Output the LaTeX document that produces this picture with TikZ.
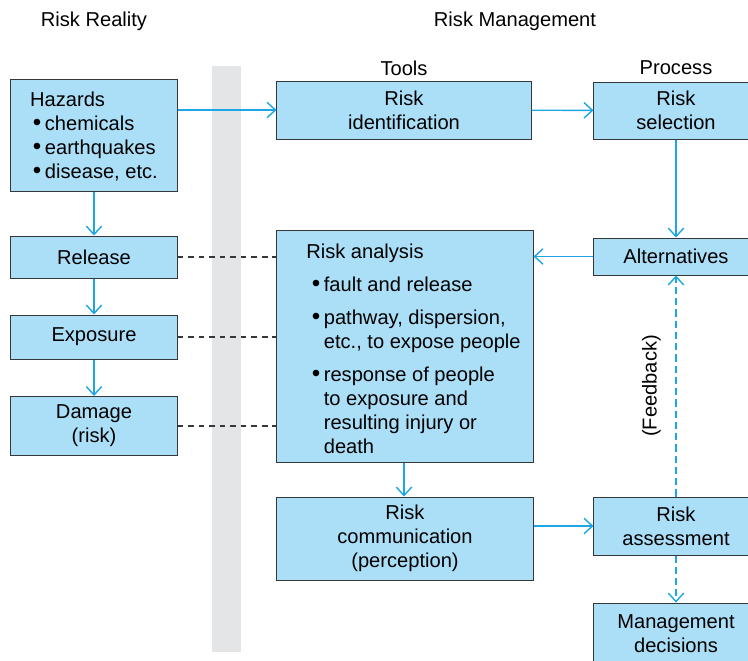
\documentclass[tikz,border=0pt]{standalone}
\usepackage{fontspec}
\setmainfont{Liberation Sans}
\usetikzlibrary{arrows.meta}
\definecolor{boxfill}{RGB}{171,223,248}
\definecolor{flowblue}{RGB}{28,166,230}
\definecolor{bargray}{RGB}{228,229,231}
\definecolor{edgegray}{RGB}{55,55,55}
\newcommand{\bul}{\scalebox{1.2}{\textbullet}\hspace{2.5pt}}
\newcommand{\shiftdown}[2]{\raisebox{-#1}[\height][\depth]{#2}}

\begin{document}
\begin{tikzpicture}[x=0.025cm, y=-0.025cm,
    font=\fontsize{14.3}{17.2}\selectfont,
    box/.style={draw=edgegray, fill=boxfill, line width=0.7pt, align=center, inner sep=0pt},
    flow/.style={draw=flowblue, line width=1pt, -{Straight Barb[length=6pt,width=11pt]}},
    feed/.style={flow, dash pattern=on 5pt off 3pt},
    link/.style={draw=edgegray, line width=0.8pt, dash pattern=on 4pt off 3.5pt}]
    \useasboundingbox (0,0) rectangle (748,660);
    % divider between the two halves
    \fill[bargray] (212,66) rectangle (241,652);

    % headings
    \node (reality) at (94,21) {Risk Reality};
    \node (management) at (515,21) {Risk Management};
    \node (tools) at (404,68) {Tools};
    \node (process) at (676,68) {Process};

    % risk reality column
    \node[box, minimum width=4.15cm, minimum height=2.8cm] (hazards) at (94,135)
      {\shiftdown{2pt}{\begin{tabular}{@{}l@{}}
        Hazards\\
        \hspace{2pt}\bul chemicals\\
        \hspace{2pt}\bul earthquakes\\
        \hspace{2pt}\bul disease, etc.
      \end{tabular}}};
    \node[box, minimum width=4.15cm, minimum height=1.05cm] (release) at (94,257) {Release};
    \node[box, minimum width=4.15cm, minimum height=1.1cm] (exposure) at (94,337) {Exposure};
    \node[box, minimum width=4.15cm, minimum height=1.475cm] (damage) at (94,426)
      {Damage\\(risk)};

    % tools column
    \node[box, minimum width=6.35cm, minimum height=1.45cm] (identification) at (404,110)
      {Risk\\identification};
    \node[box, minimum width=6.4cm, minimum height=5.775cm] (analysis) at (405,346.5)
      {\shiftdown{3.5pt}{\begin{tabular}{@{\hspace{12pt}}l@{}}
        Risk analysis\\[6pt]
        \hspace{4pt}\bul fault and release\\[6pt]
        \hspace{4pt}\bul pathway, dispersion,\\
        \hspace{4pt}\phantom{\bul}etc., to expose people\\[6pt]
        \hspace{4pt}\bul response of people\\
        \hspace{4pt}\phantom{\bul}to exposure and\\
        \hspace{4pt}\phantom{\bul}resulting injury or\\
        \hspace{4pt}\phantom{\bul}death
      \end{tabular}}};
    \node[box, minimum width=6.4cm, minimum height=2.075cm] (communication) at (405,538.5)
      {Risk\\communication\\(perception)};

    % process column
    \node[box, minimum width=4.1cm, minimum height=1.425cm] (selection) at (676,110.5)
      {Risk\\selection};
    \node[box, minimum width=4.1cm, minimum height=0.925cm] (alternatives) at (676,256.5)
      {Alternatives};
    \node[box, minimum width=4.1cm, minimum height=1.45cm] (assessment) at (676,526)
      {Risk\\assessment};
    \node[box, minimum width=4.1cm, minimum height=1.55cm] (decisions) at (676,634)
      {Management\\decisions};

    % connectors
    \draw[flow] (hazards.east |- identification.west) -- (identification.west);
    \draw[flow] (identification) -- (selection);
    \draw[flow] (selection) -- (alternatives);
    \draw[flow] (alternatives.west) -- (alternatives.west -| analysis.east);
    \draw[flow] (hazards) -- (release);
    \draw[flow] (release) -- (exposure);
    \draw[flow] (exposure) -- (damage);
    \draw[flow] (analysis.south -| 404,0) -- (communication.north -| 404,0);
    \draw[flow] (communication.east |- assessment.west) -- (assessment.west);
    \draw[feed] (assessment.north) -- node[rotate=90, above=7pt] (feedback) {(Feedback)}
      (alternatives.south);
    \draw[feed] (assessment) -- (decisions);

    \draw[link] (release.east) -- (release.east -| analysis.west);
    \draw[link] (exposure.east) -- (exposure.east -| analysis.west);
    \draw[link] (damage.east) -- (damage.east -| analysis.west);
  \end{tikzpicture}
\end{document}
